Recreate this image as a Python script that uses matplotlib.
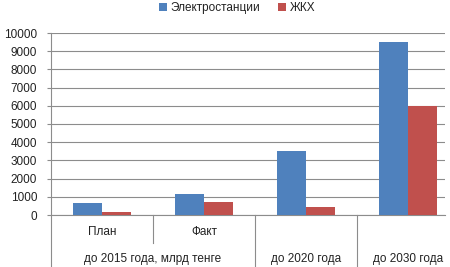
import matplotlib
matplotlib.use("Agg")
import matplotlib.pyplot as plt
import numpy as np
from matplotlib.transforms import blended_transform_factory

plt.rcParams['font.family'] = ['Liberation Sans', 'DejaVu Sans']

series_names = ["Электростанции", "ЖКХ"]
sub_labels = ["План", "Факт", "", ""]
group_labels = ["до 2015 года, млрд тенге", "до 2020 года", "до 2030 года"]
group_spans = [(0, 1), (2, 2), (3, 3)]
electro = [650, 1150, 3500, 9500]
zhkh = [150, 730, 450, 6000]
yticks = list(range(0, 10001, 1000))

blue = "#4F81BD"
red = "#C0504D"
grid_c = "#8C8C8C"

fig = plt.figure(figsize=(4.5, 2.67), dpi=100)
ax = fig.add_axes([51/450, 1-215/267, (445-51)/450, (215-33)/267])

x = np.arange(len(electro))
w = 0.285
ax.bar(x - w/2, electro, w, color=blue, label=series_names[0], zorder=3)
ax.bar(x + w/2, zhkh, w, color=red, label=series_names[1], zorder=3)

ax.set_ylim(0, 10000)
ax.set_xlim(-0.5, -0.5 + (445-51)/102)
ax.set_yticks(yticks)
ax.set_yticklabels([str(v) for v in yticks], fontsize=8.5, color="#222222")
ax.yaxis.grid(True, color=grid_c, linewidth=0.8, zorder=0)
ax.set_xticks([])
for s in ["top", "right"]:
    ax.spines[s].set_visible(False)
for s in ["left", "bottom"]:
    ax.spines[s].set_color(grid_c)
    ax.spines[s].set_linewidth(0.8)
ax.tick_params(axis='y', length=3, width=0.8, color=grid_c, pad=7)

trans = blended_transform_factory(ax.transData, ax.transAxes)
ax_h_px = 215 - 33
# sub labels
for i, lab in enumerate(sub_labels):
    if lab:
        ax.text(x[i], -(232-215)/ax_h_px, lab, transform=trans, ha='center', va='center',
                fontsize=8.5, color="#222222")
# separators between sub categories inside groups
for (a, b) in group_spans:
    for k in range(a, b):
        ax.plot([k + 0.5, k + 0.5], [0, -(243-215)/ax_h_px], transform=trans,
                color=grid_c, linewidth=0.8, clip_on=False)
# group separators (full height)
for (a, b) in group_spans:
    ax.plot([a - 0.5, a - 0.5], [0, -(267-215)/ax_h_px], transform=trans,
            color=grid_c, linewidth=0.8, clip_on=False)
# group labels
for lab, (a, b) in zip(group_labels, group_spans):
    ax.text((a + b)/2, -(259-215)/ax_h_px, lab, transform=trans, ha='center', va='center',
            fontsize=8.5, color="#222222")

leg = fig.legend(loc='center', bbox_to_anchor=(237/450, 1-8/267), ncol=2, frameon=False,
                 fontsize=8.5, handlelength=0.7, handleheight=0.7, handletextpad=0.3,
                 columnspacing=1.5)
for t in leg.get_texts():
    t.set_color("#222222")

fig.savefig("out.png", dpi=100)
